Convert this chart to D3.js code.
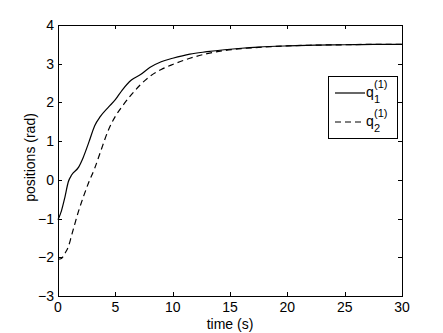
<!DOCTYPE html>
<html>
  <head>
    <meta charset="utf-8" />
    <script src="https://d3js.org/d3.v7.min.js"></script>
    <style>
      body { margin: 0; background: #fff; }
      text { font-family: "Liberation Sans", Arial, sans-serif; }
    </style>
  </head>
  <body>
    <svg id="chart"></svg>
    <script>
      // data
      var times = [0, 0.3, 0.6, 0.9, 1.2, 1.8, 2.2, 2.7, 3.2, 3.7, 4.4, 5, 5.6, 6.4,
        7.2, 8, 9, 10, 11.5, 13, 14.5, 16, 17.5, 20, 22.5, 25, 27.5, 30];
      var q1 = [-1.03, -0.8, -0.45, -0.05, 0.13, 0.33, 0.58, 0.98, 1.4, 1.64, 1.88,
        2.07, 2.32, 2.58, 2.72, 2.9, 3.05, 3.14, 3.25, 3.31, 3.36, 3.4, 3.43, 3.46,
        3.48, 3.49, 3.5, 3.5];
      var q2 = [-2.05, -2.03, -1.9, -1.73, -1.42, -0.8, -0.45, -0.05, 0.3, 0.72, 1.29,
        1.64, 1.9, 2.2, 2.46, 2.67, 2.85, 2.98, 3.14, 3.26, 3.34, 3.39, 3.42, 3.46,
        3.48, 3.49, 3.5, 3.5];
      var xTicks = [0, 5, 10, 15, 20, 25, 30];
      var yTicks = [-3, -2, -1, 0, 1, 2, 3, 4];

      var width = 443, height = 333;
      var margin = { left: 58, right: 41, top: 25, bottom: 37 };

      var svg = d3.select("#chart").attr("width", width).attr("height", height);

      var x = d3.scaleLinear().domain([0, 30]).range([margin.left, width - margin.right]);
      var y = d3.scaleLinear().domain([-3, 4]).range([height - margin.bottom, margin.top]);

      // ticks pointing inward, mirrored on top/right
      var g = svg.append("g").attr("stroke", "#000").attr("stroke-width", 1);
      xTicks.forEach(function (t) {
        var px = Math.round(x(t)) + 0.5;
        g.append("line").attr("x1", px).attr("x2", px)
          .attr("y1", y(-3)).attr("y2", y(-3) - 4);
        g.append("line").attr("x1", px).attr("x2", px)
          .attr("y1", y(4)).attr("y2", y(4) + 4);
      });
      yTicks.forEach(function (v) {
        var py = Math.round(y(v)) + 0.5;
        g.append("line").attr("x1", x(0)).attr("x2", x(0) + 4)
          .attr("y1", py).attr("y2", py);
        g.append("line").attr("x1", x(30)).attr("x2", x(30) - 4)
          .attr("y1", py).attr("y2", py);
      });

      // frame
      svg.append("rect")
        .attr("x", Math.round(x(0)) + 0.5).attr("y", Math.round(y(4)) + 0.5)
        .attr("width", Math.round(x(30)) - Math.round(x(0)))
        .attr("height", Math.round(y(-3)) - Math.round(y(4)))
        .attr("fill", "none").attr("stroke", "#000");

      // tick labels
      svg.append("g").selectAll("text").data(xTicks).join("text")
        .attr("x", function (d) { return x(d); })
        .attr("y", y(-3) + 16)
        .attr("text-anchor", "middle")
        .attr("font-size", 14)
        .text(function (d) { return d; });

      svg.append("g").selectAll("text").data(yTicks).join("text")
        .attr("x", x(0) - 4)
        .attr("y", function (d) { return y(d) + 5; })
        .attr("text-anchor", "end")
        .attr("font-size", 14)
        .text(function (d) { return d < 0 ? "\u2212" + Math.abs(d) : d; });

      // axis titles
      svg.append("text")
        .attr("x", x(15)).attr("y", 329)
        .attr("text-anchor", "middle").attr("font-size", 14)
        .text("time (s)");
      svg.append("text")
        .attr("transform", "translate(35,157.5) rotate(-90)")
        .attr("text-anchor", "middle").attr("font-size", 14)
        .text("positions (rad)");

      // curves
      var line = d3.line()
        .x(function (d, i) { return x(times[i]); })
        .y(function (d) { return y(d); })
        .curve(d3.curveMonotoneX);

      svg.append("path").datum(q1).attr("d", line)
        .attr("fill", "none").attr("stroke", "#000").attr("stroke-width", 1.2);
      svg.append("path").datum(q2).attr("d", line)
        .attr("fill", "none").attr("stroke", "#000").attr("stroke-width", 1.2)
        .attr("stroke-dasharray", "6,4");

      // legend
      var leg = svg.append("g");
      leg.append("rect").attr("x", 328.5).attr("y", 76.5).attr("width", 69).attr("height", 62)
        .attr("fill", "#fff").attr("stroke", "#000");
      var items = [{ sub: "1", dash: null, y: 93 }, { sub: "2", dash: "6,4", y: 122 }];
      items.forEach(function (it) {
        leg.append("line").attr("x1", 335).attr("x2", 365)
          .attr("y1", it.y).attr("y2", it.y)
          .attr("stroke", "#000").attr("stroke-width", 1.2)
          .attr("stroke-dasharray", it.dash);
        leg.append("text").attr("x", 366).attr("y", it.y + 4).attr("font-size", 14).text("q");
        leg.append("text").attr("x", 374).attr("y", it.y + 10).attr("font-size", 11).text(it.sub);
        leg.append("text").attr("x", 374).attr("y", it.y - 5).attr("font-size", 11).text("(1)");
      });
    </script>
  </body>
</html>
